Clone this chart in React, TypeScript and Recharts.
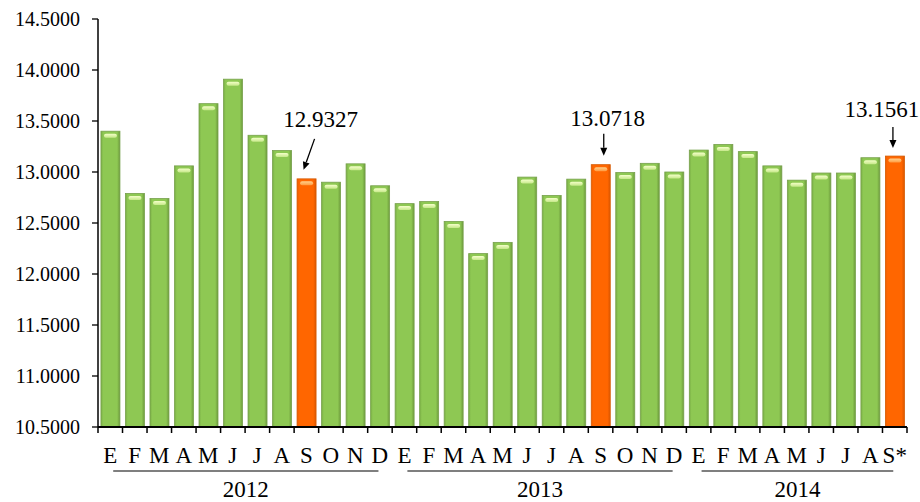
import React from 'react';
import { BarChart, Bar, XAxis, YAxis, LabelList } from 'recharts';

const months = [
  'E', 'F', 'M', 'A', 'M', 'J', 'J', 'A', 'S', 'O', 'N', 'D',
  'E', 'F', 'M', 'A', 'M', 'J', 'J', 'A', 'S', 'O', 'N', 'D',
  'E', 'F', 'M', 'A', 'M', 'J', 'J', 'A', 'S*',
];
const years = ['2012', '2013', '2014'];
const monthsPerYear = [12, 12, 9];
const values = [
  13.4, 12.79, 12.74, 13.06, 13.67, 13.91, 13.36, 13.21, 12.9327, 12.9, 13.08, 12.865,
  12.69, 12.71, 12.515, 12.2, 12.31, 12.95, 12.77, 12.93, 13.0718, 12.995, 13.085, 13.0,
  13.215, 13.27, 13.2, 13.06, 12.92, 12.99, 12.99, 13.14, 13.1561,
];
const calloutIdx = [8, 20, 32];
const yTicks = [10.5, 11, 11.5, 12, 12.5, 13, 13.5, 14, 14.5];

// text / arrow placement for each callout, relative to the bar's top centre
const calloutLayout = [
  { tx: 14, ty: -52, x1: 8, y1: -40, x2: -3, y2: -9 },
  { tx: 7, ty: -39, x1: 3, y1: -31, x2: 3, y2: -9 },
  { tx: -13, ty: -39, x1: -2, y1: -29, x2: -2, y2: -8 },
];

const data = months.map((m, i) => ({ month: m, value: values[i] }));

const yearStart: number[] = [];
monthsPerYear.reduce((acc, n) => {
  yearStart.push(acc);
  return acc + n;
}, 0);

const FONT = 'Liberation Serif, Times New Roman, serif';
const serif = { fontFamily: FONT };

const BevelBar = (props: any) => {
  const { x, y, width, height, index } = props;
  if (!width || !height) return null;
  const hot = calloutIdx.includes(index);
  const id = hot ? 'orange' : 'green';
  return (
    <g>
      <rect
        x={x}
        y={y}
        width={width}
        height={height}
        fill={`url(#side-${id})`}
        stroke={hot ? '#d55a00' : '#77a14c'}
        strokeWidth={0.8}
      />
      <rect x={x + 3} y={y + 2.5} width={width - 6} height={4} rx={2} fill={`url(#hi-${id})`} />
    </g>
  );
};

const Callout = (props: any) => {
  const { x, y, width, value, index } = props;
  let k = calloutIdx.indexOf(index);
  if (k < 0) k = calloutIdx.findIndex((i) => values[i] === value);
  if (k < 0) return null;
  const cx = x + width / 2;
  const l = calloutLayout[k];
  const x1 = cx + l.x1;
  const y1 = y + l.y1;
  const x2 = cx + l.x2;
  const y2 = y + l.y2;
  const len = Math.hypot(x2 - x1, y2 - y1);
  const ux = (x2 - x1) / len;
  const uy = (y2 - y1) / len;
  const head = 8;
  const half = 3.5;
  const bx = x2 - ux * head;
  const by = y2 - uy * head;
  return (
    <g>
      <text x={cx + l.tx} y={y + l.ty} textAnchor="middle" style={serif} fontSize={23} fill="#000">
        {Number(value).toFixed(4)}
      </text>
      <line x1={x1} y1={y1} x2={bx} y2={by} stroke="#000" strokeWidth={1.3} />
      <polygon
        points={`${x2},${y2} ${bx - uy * half},${by + ux * half} ${bx + uy * half},${by - ux * half}`}
        fill="#000"
      />
    </g>
  );
};

const MonthTick = (props: any) => {
  const { x, y, payload } = props;
  const i: number = payload.index;
  const half: number = payload.offset || 12.25;
  const band = half * 2;
  const yr = yearStart.indexOf(i);
  const last = i === months.length - 1;
  let yearGroup = null;
  if (yr >= 0) {
    const left = x - half;
    const startX = left + band * 0.62;
    const endX = left + band * (monthsPerYear[yr] - 0.56);
    yearGroup = (
      <g>
        <line x1={startX} y1={y + 44} x2={endX} y2={y + 44} stroke="#000" strokeWidth={1.2} />
        <text
          x={(startX + endX) / 2}
          y={y + 70}
          textAnchor="middle"
          style={serif}
          fontSize={23}
          fill="#000"
        >
          {years[yr]}
        </text>
      </g>
    );
  }
  return (
    <g>
      <line x1={x - half} y1={y} x2={x - half} y2={y + 6} stroke="#000" strokeWidth={1.5} />
      {last && <line x1={x + half} y1={y} x2={x + half} y2={y + 6} stroke="#000" strokeWidth={1.5} />}
      <text x={x} y={y + 36} textAnchor="middle" style={serif} fontSize={23} fill="#000">
        {payload.value}
      </text>
      {yearGroup}
    </g>
  );
};

const ValueTick = (props: any) => {
  const { x, y, payload } = props;
  return (
    <text x={x} y={y + 7} textAnchor="end" style={serif} fontSize={20} fill="#000">
      {Number(payload.value).toFixed(4)}
    </text>
  );
};

export default function App() {
  return (
    <div style={{ position: 'absolute', left: 0, top: 0, width: 920, height: 502, background: '#fff' }}>
      <BarChart
        width={920}
        height={502}
        data={data}
        margin={{ top: 19, right: 13, bottom: 0, left: 0 }}
        barCategoryGap="12%"
      >
        <defs>
          <linearGradient id="side-green" x1="0" y1="0" x2="1" y2="0">
            <stop offset="0%" stopColor="#79ad45" />
            <stop offset="12%" stopColor="#8ec853" />
            <stop offset="85%" stopColor="#8ec853" />
            <stop offset="100%" stopColor="#6d9a3c" />
          </linearGradient>
          <linearGradient id="side-orange" x1="0" y1="0" x2="1" y2="0">
            <stop offset="0%" stopColor="#ee5f00" />
            <stop offset="12%" stopColor="#ff6600" />
            <stop offset="85%" stopColor="#ff6600" />
            <stop offset="100%" stopColor="#dc5600" />
          </linearGradient>
          <linearGradient id="hi-green" x1="0" y1="0" x2="0" y2="1">
            <stop offset="0%" stopColor="#f4ffc8" />
            <stop offset="100%" stopColor="#c6e88a" />
          </linearGradient>
          <linearGradient id="hi-orange" x1="0" y1="0" x2="0" y2="1">
            <stop offset="0%" stopColor="#ffd08a" />
            <stop offset="100%" stopColor="#ff9a40" />
          </linearGradient>
        </defs>
        <XAxis
          dataKey="month"
          interval={0}
          height={75}
          tickSize={0}
          tickMargin={0}
          tickLine={false}
          axisLine={{ stroke: '#000', strokeWidth: 2 }}
          tick={<MonthTick />}
        />
        <YAxis
          width={98}
          domain={[10.5, 14.5]}
          ticks={yTicks}
          allowDataOverflow
          tickSize={6}
          tickMargin={12}
          tickLine={{ stroke: '#000', strokeWidth: 1.3 }}
          axisLine={{ stroke: '#000', strokeWidth: 1.5 }}
          tick={<ValueTick />}
        />
        <Bar dataKey="value" shape={<BevelBar />} isAnimationActive={false}>
          <LabelList dataKey="value" content={<Callout />} />
        </Bar>
      </BarChart>
    </div>
  );
}
